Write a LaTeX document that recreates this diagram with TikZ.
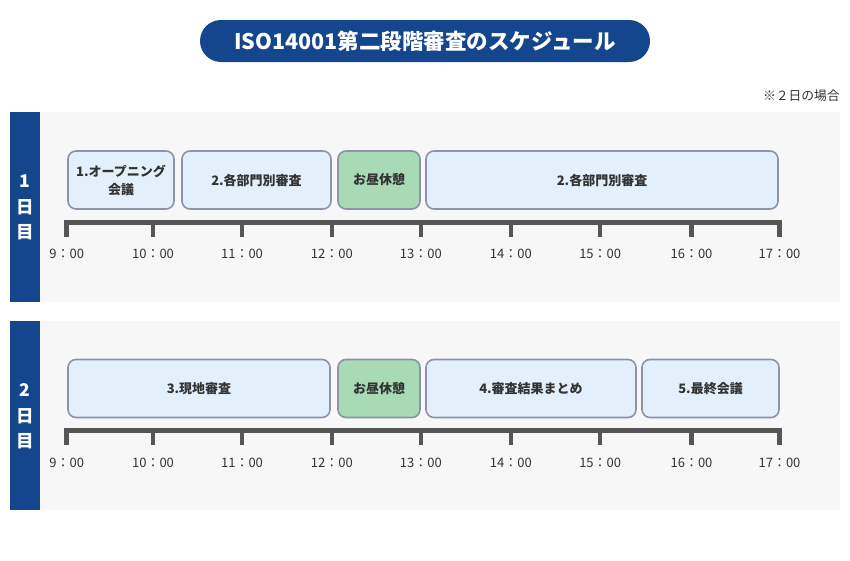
\documentclass[tikz,border=0pt]{standalone}
\usepackage{fontspec}
\setmainfont{Noto Sans CJK JP}
\definecolor{navy}{HTML}{13468C}
\definecolor{panelbg}{HTML}{F7F7F7}
\definecolor{boxfill}{HTML}{E3F0FC}
\definecolor{boxline}{HTML}{8A93A8}
\definecolor{lunchfill}{HTML}{A8DAB5}
\definecolor{barcol}{HTML}{555555}
\definecolor{txt}{HTML}{333333}
\begin{document}
\begin{tikzpicture}[x=1pt,y=-1pt,
  taskbox/.style={draw=boxline, line width=1.6pt, fill=boxfill, rounded corners=8pt,
    text=txt, font=\bfseries\fontsize{13}{18}\selectfont, align=center, inner sep=0pt},
  lunchbox/.style={taskbox, fill=lunchfill},
  timelabel/.style={text=txt, font=\fontsize{13}{13}\selectfont, inner sep=0pt},
  daylabel/.style={text=white, font=\bfseries\fontsize{17.5}{25.5}\selectfont, align=center, inner sep=0pt},
  barline/.style={draw=barcol, line width=5pt, line cap=butt},
  tickline/.style={draw=barcol, line width=4.5pt, line cap=butt}]
\useasboundingbox (0,0) rectangle (850,560);
\fill[white] (0,0) rectangle (850,560);

% title
\node[fill=navy, rounded corners=21pt, minimum width=450pt, minimum height=42pt, inner sep=0pt,
  text=white, font=\bfseries\fontsize{21.5}{22}\selectfont] (title) at (425,41) {ISO14001第二段階審査のスケジュール};
\node[anchor=east, text=txt, inner sep=0pt, font=\fontsize{12.8}{13}\selectfont] (note) at (840,96) {※２日の場合};

% panels
\fill[panelbg] (40,112) rectangle (840,302);
\fill[navy] (10,112) rectangle (40,302);
\fill[panelbg] (40,321) rectangle (840,510);
\fill[navy] (10,321) rectangle (40,510);
\node[daylabel] (day1) at (25,207.5) {1\\日\\目};
\node[daylabel] (day2) at (25,416.5) {2\\日\\目};

% timelines
\foreach \by/\ly/\d in {222.5/254/a, 430.5/463/b}{
  \coordinate (\d s) at (64.4,\by);
  \coordinate (\d e) at (781.8,\by);
  \draw[barline] (\d s) -- (\d e);
  \foreach \h/\xx in {9/66.7,10/153,11/242,12/331.8,13/420.8,14/510.8,15/600.2,16/691.5,17/779.5}{
    \coordinate (\d t\h) at (\xx,\by-2.5);
    \coordinate (\d u\h) at (\xx,\by+14.5);
    \draw[tickline] (\d t\h) -- (\d u\h);
    \node[timelabel] (\d l\h) at (\xx,\ly) {\h：00};
  }
}

% day 1 tasks
\node[taskbox, minimum width=106pt, minimum height=58pt] (b1) at (121,180) {1.オープニング\\会議};
\node[taskbox, minimum width=149pt, minimum height=58pt] (b2) at (256.5,180) {2.各部門別審査};
\node[lunchbox, minimum width=82pt, minimum height=58pt] (l1) at (379,180) {お昼休憩};
\node[taskbox, minimum width=352pt, minimum height=58pt] (b3) at (602,180) {2.各部門別審査};

% day 2 tasks
\node[taskbox, minimum width=262pt, minimum height=58pt] (c1) at (199,388.5) {3.現地審査};
\node[lunchbox, minimum width=82pt, minimum height=58pt] (l2) at (379,388.5) {お昼休憩};
\node[taskbox, minimum width=210pt, minimum height=58pt] (c2) at (531,388.5) {4.審査結果まとめ};
\node[taskbox, minimum width=137pt, minimum height=58pt] (c3) at (710.5,388.5) {5.最終会議};
\end{tikzpicture}
\end{document}
